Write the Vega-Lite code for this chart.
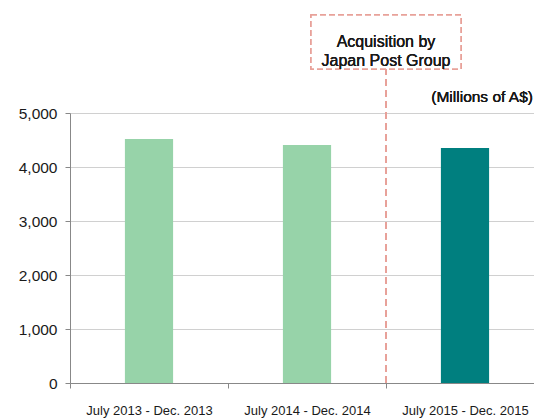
{
  "$schema": "https://vega.github.io/schema/vega-lite/v6.json",
  "width": 464,
  "height": 270,
  "autosize": {"type": "none"},
  "padding": {"left": 70, "top": 113, "right": 0, "bottom": 35},
  "background": "white",
  "config": {"view": {"stroke": null}, "font": "Liberation Sans"},
  "data": {"values": [
    {"period": "July 2013 - Dec. 2013", "revenue": 4520, "group": "before"},
    {"period": "July 2014 - Dec. 2014", "revenue": 4408, "group": "before"},
    {"period": "July 2015 - Dec. 2015", "revenue": 4352, "group": "after"}
  ]},
  "encoding": {
    "x": {"field": "period", "type": "nominal", "sort": null,
      "scale": {"range": [0, 474], "paddingInner": 0, "paddingOuter": 0},
      "axis": {"title": null, "labelAngle": 0, "tickBand": "extent", "tickSize": 5,
        "domainColor": "#888888", "tickColor": "#888888", "labelFontSize": 13,
        "labelColor": "#1a1a1a", "labelPadding": 16, "labelFont": "Liberation Sans", "grid": false}}
  },
  "layer": [
    {
      "mark": {"type": "bar", "width": {"band": 0.305}},
      "encoding": {
        "y": {"field": "revenue", "type": "quantitative",
          "scale": {"domain": [0, 5000], "nice": false},
          "axis": {"title": null, "values": [0, 1000, 2000, 3000, 4000, 5000], "format": ",.0f",
            "tickSize": 5, "domainColor": "#888888", "tickColor": "#888888",
            "gridColor": "#d0d0d0", "labelFontSize": 15.5, "labelColor": "#1a1a1a",
            "labelPadding": 8, "labelFont": "Liberation Sans"}},
        "color": {"field": "group", "type": "nominal",
          "scale": {"domain": ["before", "after"], "range": ["#97d3a9", "#007f7f"]}, "legend": null}
      }
    },
    {
      "mark": {"type": "rule", "stroke": "#e8a199", "strokeWidth": 1.6, "strokeDash": [7, 4], "clip": false},
      "encoding": {
        "x": {"datum": "July 2015 - Dec. 2015", "bandPosition": 0},
        "y": {"datum": 0},
        "y2": {"datum": 5815}
      }
    },
    {
      "mark": {"type": "rect", "xOffset": -75, "x2Offset": 75, "fill": "white", "stroke": "#e8a199", "strokeWidth": 1.6, "strokeDash": [6, 3], "clip": false},
      "encoding": {
        "x": {"datum": "July 2015 - Dec. 2015", "bandPosition": 0},
        "x2": {"datum": "July 2014 - Dec. 2014", "bandPosition": 1},
        "y": {"datum": 5815},
        "y2": {"datum": 6815}
      }
    },
    {
      "mark": {"type": "text", "text": ["Acquisition by", "Japan Post Group"], "fontSize": 16, "fontWeight": "normal", "lineHeight": 19, "color": "#1a1a1a", "align": "center", "baseline": "middle", "clip": false},
      "encoding": {
        "x": {"datum": "July 2015 - Dec. 2015", "bandPosition": 0},
        "y": {"datum": 6315}
      }
    },
    {
      "mark": {"type": "text", "text": "(Millions of A$)", "fontSize": 15.5, "fontWeight": "normal", "color": "#1a1a1a", "align": "right", "baseline": "middle", "clip": false},
      "encoding": {
        "x": {"datum": "July 2015 - Dec. 2015", "bandPosition": 0.93},
        "y": {"datum": 5296}
      }
    }
  ]
}
